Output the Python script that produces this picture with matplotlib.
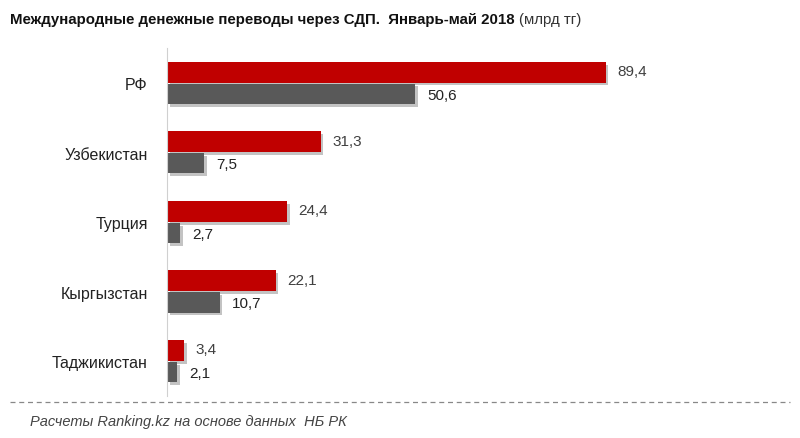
import matplotlib.pyplot as plt
import matplotlib.patheffects as pe
from matplotlib.lines import Line2D

# data
countries = ["РФ", "Узбекистан", "Турция", "Кыргызстан", "Таджикистан"]
vals_red = [89.4, 31.3, 24.4, 22.1, 3.4]
vals_gray = [50.6, 7.5, 2.7, 10.7, 2.1]

red = "#C00000"
gray = "#595959"
txt = "#404040"

plt.rcParams["font.family"] = ["Liberation Sans", "DejaVu Sans"]

fig = plt.figure(figsize=(8, 4.39), dpi=100)
ax = fig.add_axes([0.209, 0.0957, 0.61, 0.7923])

ypos = list(range(len(countries)))
shadow = [pe.SimplePatchShadow(offset=(2, -2), shadow_rgbFace="#888888", alpha=0.5), pe.Normal()]
b1 = ax.barh([y - 0.155 for y in ypos], vals_red, height=0.3, color=red)
b2 = ax.barh([y + 0.155 for y in ypos], vals_gray, height=0.29, color=gray)
for b in list(b1) + list(b2):
    b.set_path_effects(shadow)

for y, v in zip(ypos, vals_red):
    ax.text(v + 2.4, y - 0.17, f"{v:.1f}".replace(".", ","), va="center", ha="left",
            fontsize=11, color=txt)
for y, v in zip(ypos, vals_gray):
    ax.text(v + 2.4, y + 0.17, f"{v:.1f}".replace(".", ","), va="center", ha="left",
            fontsize=11, color="#222222")

ax.set_xlim(0, 99.5)
ax.set_ylim(4.5, -0.5)
ax.set_yticks(ypos)
ax.set_yticklabels(countries, fontsize=11.5, color="#222222")
ax.tick_params(axis="y", length=0, pad=14)
ax.set_xticks([])
for s in ["top", "right", "bottom"]:
    ax.spines[s].set_visible(False)
ax.spines["left"].set_color("#d0d0d0")

t = fig.text(0.012, 0.955, "Международные денежные переводы через СДП.  Январь-май 2018",
             fontsize=10.8, fontweight="bold", color="#111111", va="center")
fig.canvas.draw()
bb = t.get_window_extent().transformed(fig.transFigure.inverted())
fig.text(bb.x1 + 0.006, 0.955, "(млрд тг)", fontsize=10.8, color="#333333", va="center")

fig.add_artist(Line2D([0.012, 0.988], [0.082, 0.082], transform=fig.transFigure,
                      color="#888888", linestyle=(0, (4, 3)), linewidth=0.9))
fig.text(0.038, 0.038, "Расчеты Ranking.kz на основе данных  НБ РК", fontsize=10.5,
         style="italic", color="#444444", va="center")

fig.savefig("out.png", dpi=100)
